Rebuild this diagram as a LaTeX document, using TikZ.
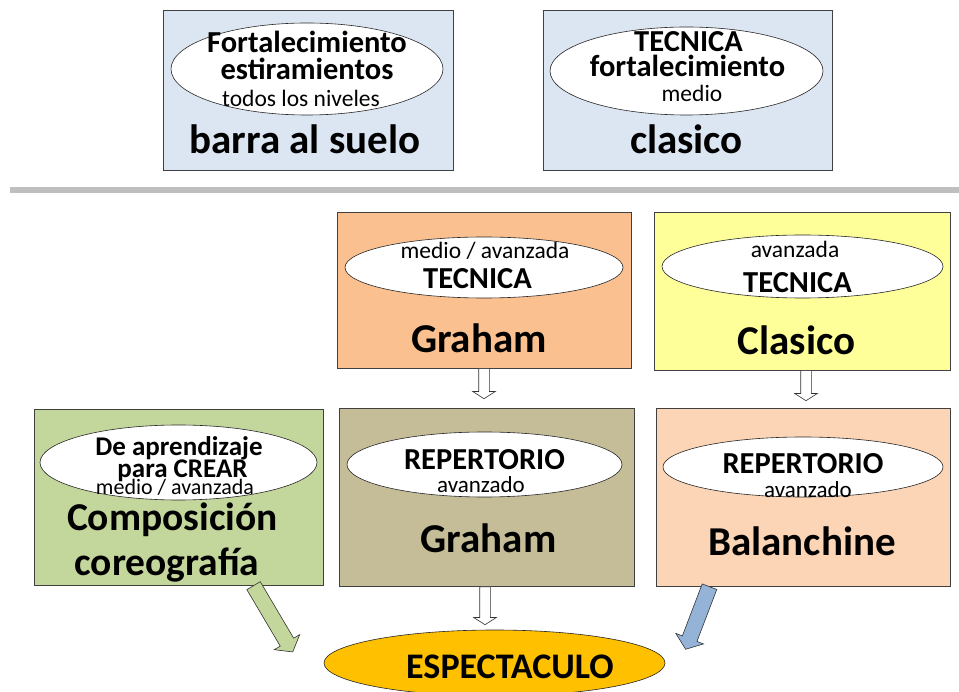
\documentclass[tikz,border=0pt]{standalone}
\usepackage{fontspec}
\setmainfont{Carlito}
\usetikzlibrary{shapes.geometric,shapes.arrows,calc}

\definecolor{topblue}{HTML}{DCE6F2}
\definecolor{tecorange}{HTML}{FAC090}
\definecolor{tecyellow}{HTML}{FFFF99}
\definecolor{compgreen}{HTML}{C3D69B}
\definecolor{reptan}{HTML}{C4BD97}
\definecolor{reppeach}{HTML}{FBD5B5}
\definecolor{arrowblue}{HTML}{95B3D7}
\definecolor{espgold}{HTML}{FFC000}

\begin{document}
\begin{tikzpicture}[x=1pt,y=-1pt,
            box/.style={draw=black!75,line width=0.8pt,inner sep=0pt},
            oval/.style={ellipse,draw=black!85,fill=white,line width=0.6pt,inner sep=0pt},
            big/.style={anchor=base,inner sep=0pt,font=\bfseries\fontsize{41}{41}\selectfont},
            bold/.style={anchor=base,inner sep=0pt,font=\bfseries\fontsize{30.5}{30}\selectfont},
            small/.style={anchor=base,inner sep=0pt,font=\fontsize{23.5}{24}\selectfont},
            down/.style={single arrow,draw=black!80,fill=white,line width=0.6pt,
              inner xsep=0pt,inner ysep=5pt,rotate=-90,anchor=tail,
              single arrow head extend=6pt,single arrow tip angle=115},
            slant/.style={single arrow,draw=black!80,line width=0.6pt,
              inner xsep=0pt,inner ysep=7.5pt,anchor=tail,
              single arrow head extend=7pt,single arrow tip angle=105}
          ]
          \useasboundingbox (0,0) rectangle (959,692);

          % top row
          \node[box,fill=topblue,minimum width=290pt,minimum height=160pt] (barra) at (308,90) {};
          \node[oval,minimum width=272pt,minimum height=92pt] (barraO) at (307,69) {};
          \node[bold] (barra1) at (307,53) {Fortalecimiento};
          \node[bold] (barra2) at (307,80) {estiramientos};
          \node[small] (barra3) at (301,107) {todos los niveles};
          \node[big] (barra4) at (305,154) {barra al suelo};

          \node[box,fill=topblue,minimum width=289pt,minimum height=160pt] (clas) at (687.5,90) {};
          \node[oval,minimum width=273pt,minimum height=88pt] (clasO) at (686.5,71) {};
          \node[bold] (clas1) at (688.5,52) {TECNICA};
          \node[bold] (clas2) at (687.5,77) {fortalecimiento};
          \node[small] (clas3) at (692,102) {medio};
          \node[big] (clas4) at (686.5,154) {clasico};

          \draw[line width=6pt,black!25] (10,190) -- (959,190);

          % tecnica
          \node[box,fill=tecorange,minimum width=294pt,minimum height=156pt] (tecG) at (484,290) {};
          \node[oval,minimum width=278pt,minimum height=61pt] (tecGO) at (484,267.5) {};
          \node[small] (tecG1) at (485,259) {medio / avanzada};
          \node[bold] (tecG2) at (477.5,289) {TECNICA};
          \node[big] (tecG3) at (479,353) {Graham};

          \node[box,fill=tecyellow,minimum width=296pt,minimum height=158pt] (tecC) at (802,291) {};
          \node[oval,minimum width=281pt,minimum height=63pt] (tecCO) at (802.5,266.5) {};
          \node[small] (tecC1) at (795,258) {avanzada};
          \node[bold] (tecC2) at (797.5,293) {TECNICA};
          \node[big] (tecC3) at (796.5,355) {Clasico};

          % repertorio y composicion
          \node[box,fill=compgreen,minimum width=289pt,minimum height=176pt] (comp) at (178.5,497) {};
          \node[oval,minimum width=277pt,minimum height=75pt] (compO) at (178.5,462.5) {};
          \node[bold,font=\bfseries\fontsize{27}{27}\selectfont] (comp1) at (179,455.5) {De aprendizaje};
          \node[bold,font=\bfseries\fontsize{27}{27}\selectfont] (comp2) at (182.5,478) {para CREAR};
          \node[small,font=\fontsize{22}{22}\selectfont] (comp3) at (175,494) {medio / avanzada};
          \node[big,font=\bfseries\fontsize{39.5}{39}\selectfont] (comp4) at (172.5,530) {Composición};
          \node[big,font=\bfseries\fontsize{39.5}{39}\selectfont] (comp5) at (167,575) {coreografía};

          \node[box,fill=reptan,minimum width=295pt,minimum height=178pt] (repG) at (486.5,497) {};
          \node[oval,minimum width=275pt,minimum height=65pt] (repGO) at (484.5,464.5) {};
          \node[bold] (repG1) at (484.5,470) {REPERTORIO};
          \node[small,font=\fontsize{23}{23}\selectfont] (repG2) at (481,493) {avanzado};
          \node[big] (repG3) at (488.5,552) {Graham};

          \node[box,fill=reppeach,minimum width=294pt,minimum height=178pt] (repB) at (803,497) {};
          \node[oval,minimum width=280pt,minimum height=60pt] (repBO) at (803,467) {};
          \node[bold] (repB1) at (803,474) {REPERTORIO};
          \node[small,font=\fontsize{23}{23}\selectfont] (repB2) at (808,497) {avanzado};
          \node[big] (repB3) at (802,555) {Balanchine};

          % espectaculo
          \node[oval,fill=espgold,minimum width=341pt,minimum height=66pt] (esp) at (494.5,663) {};
          \node[big,font=\bfseries\fontsize{36}{36}\selectfont] (esp1) at (510,678) {ESPECTACULO};

          % flechas
          \node[down,minimum height=30pt] (a1) at (tecG.south) {};
          \node[down,minimum height=30pt] (a2) at ([xshift=4pt]tecC.south) {};
          \node[down,minimum height=38pt] (a3) at ([xshift=-1.5pt]repG.south) {};
          \node[slant,fill=compgreen,rotate=-59.4,minimum height=77pt] (a4) at ($(comp.south east)+(-70,0)$) {};
          \node[slant,fill=arrowblue,rotate=-110.9,minimum height=67pt] (a5) at ($(repB.south west)+(54,0)$) {};
          \end{tikzpicture}
\end{document}
